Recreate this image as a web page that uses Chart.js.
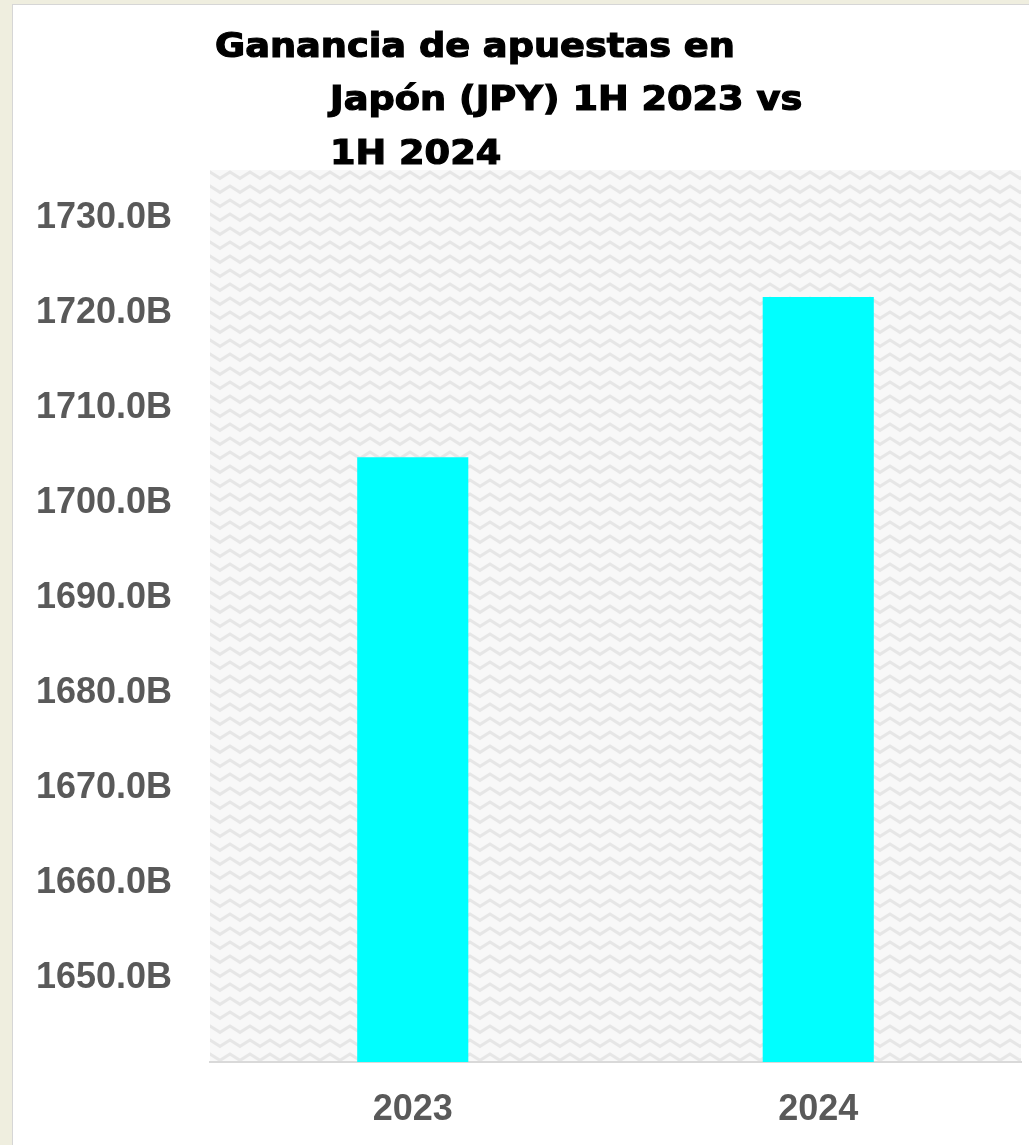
<!DOCTYPE html>
<html>
<head>
<meta charset="utf-8">
<script src="https://cdn.jsdelivr.net/npm/chart.js@4/dist/chart.umd.min.js"></script>
<style>
  html, body { margin: 0; padding: 0; background: #efeedf; }
  #card { position: absolute; left: 12px; top: 4px; width: 1030px; height: 1150px;
          background: #fff; border-left: 1px solid #d6d6d6; border-top: 1px solid #d6d6d6; }
  #wrap { position: absolute; left: 0; top: 0; width: 1029px; height: 1145px; }
</style>
</head>
<body>
<div id="card"></div>
<div id="wrap"><canvas id="chart"></canvas></div>
<script>
const years = ["2023", "2024"];
const gains = [1704.84, 1721.68];
const titleLines = ["Ganancia de apuestas en", "Japón (JPY) 1H 2023 vs", "1H 2024"];

document.addEventListener("DOMContentLoaded", () => {
  // zigzag texture for the plot area
  const tile = document.createElement("canvas");
  tile.width = 20; tile.height = 14;
  const t = tile.getContext("2d");
  t.fillStyle = "#f8f8f8";
  t.fillRect(0, 0, 20, 14);
  t.strokeStyle = "#e6e6e6";
  t.lineWidth = 3;
  t.beginPath();
  t.moveTo(-1, 11); t.lineTo(10, 4); t.lineTo(21, 11);
  t.stroke();
  t.strokeStyle = "#efefef";
  t.lineWidth = 2;
  t.beginPath();
  t.moveTo(-1, 4); t.lineTo(0, 3.5); t.moveTo(20, 3.5); t.lineTo(21, 4);
  t.stroke();

  const background = {
    id: "background",
    beforeDraw(chart) {
      const { ctx, chartArea: a } = chart;
      ctx.save();
      ctx.fillStyle = ctx.createPattern(tile, "repeat");
      ctx.fillRect(a.left, a.top, a.right - a.left, a.bottom - a.top);
      ctx.restore();
    }
  };

  // title lines are staggered in the original, so draw them by hand
  const titleText = {
    id: "titleText",
    afterDraw(chart) {
      const ctx = chart.ctx;
      const xs = [215, 330, 330];
      const ys = [57, 110, 164];
      ctx.save();
      ctx.fillStyle = "#000";
      ctx.strokeStyle = "#000";
      ctx.lineWidth = 1.2;
      ctx.font = "bold 34px 'DejaVu Sans'";
      ctx.textBaseline = "alphabetic";
      ctx.textAlign = "left";
      titleLines.forEach((line, i) => {
        ctx.save();
        ctx.translate(xs[i], ys[i]);
        ctx.scale(1.08, 1);
        ctx.fillText(line, 0, 0);
        ctx.strokeText(line, 0, 0);
        ctx.restore();
      });
      ctx.restore();
    }
  };

  new Chart(document.getElementById("chart").getContext("2d"), {
    type: "bar",
    data: {
      labels: years,
      datasets: [{ data: gains, backgroundColor: "#00ffff", barPercentage: 0.274, categoryPercentage: 1 }]
    },
    options: {
      responsive: true,
      maintainAspectRatio: false,
      animation: false,
      layout: { padding: { top: 170, right: 8, left: 0, bottom: 0 } },
      plugins: { legend: { display: false }, tooltip: { enabled: false } },
      scales: {
        x: {
          grid: { display: false, drawTicks: false },
          border: { display: true, color: "#d9d9d9", width: 2 },
          ticks: { color: "#595959", padding: 26, font: { family: "'Liberation Sans'", size: 36, weight: "bold" } },
          afterFit(scale) { scale.height = 83; }
        },
        y: {
          min: 1641.2,
          max: 1735.05,
          grid: { display: false, drawTicks: false },
          border: { display: false },
          ticks: {
            stepSize: 10,
            includeBounds: false,
            padding: 38,
            color: "#595959",
            font: { family: "'Liberation Sans'", size: 36, weight: "bold" },
            callback: v => v.toFixed(1) + "B"
          },
          afterFit(scale) { scale.width = 210; }
        }
      }
    },
    plugins: [background, titleText]
  });
});
</script>
</body>
</html>
